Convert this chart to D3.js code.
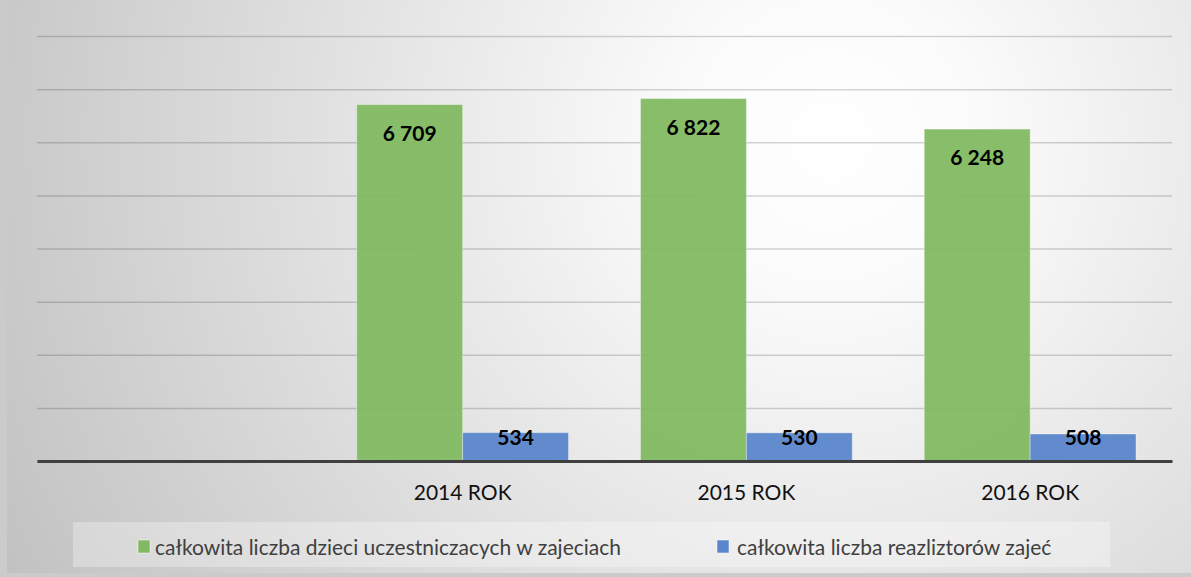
<!DOCTYPE html>
<html>
<head>
<meta charset="utf-8">
<script src="https://cdn.jsdelivr.net/npm/d3@7"></script>
<style>
  html, body { margin: 0; padding: 0; background: #cccccc; }
  svg { display: block; }
</style>
</head>
<body>
<svg id="chart" width="1191" height="577"></svg>
<script>
// ---- data ----
const categories = ["", "2014 ROK", "2015 ROK", "2016 ROK"];
const seriesNames = ["całkowita liczba dzieci uczestniczacych w zajeciach", "całkowita liczba reazliztorów zajeć"];
const childrenValues = [null, 6709, 6822, 6248];
const instructorValues = [null, 534, 530, 508];
const valueLabels = [["", "6 709", "6 822", "6 248"], ["", "534", "530", "508"]];
const yTicks = [0, 1000, 2000, 3000, 4000, 5000, 6000, 7000, 8000];
const colors = ["#82b962", "#5b86cb"];

const W = 1191, H = 577;
const margin = { left: 37, right: 19, top: 36, bottom: 116 };
const svg = d3.select("#chart");

// background
const defs = svg.append("defs");
const grad = defs.append("radialGradient").attr("id", "bg")
  .attr("gradientUnits", "userSpaceOnUse")
  .attr("cx", 830).attr("cy", 140).attr("r", 980);
grad.append("stop").attr("offset", 0).attr("stop-color", "#ffffff");
grad.append("stop").attr("offset", 0.15).attr("stop-color", "#fbfbfb");
grad.append("stop").attr("offset", 1).attr("stop-color", "#bebebe");

svg.append("rect").attr("width", W).attr("height", H).attr("fill", "#cbcbcb");
svg.append("rect").attr("x", 7).attr("y", 0).attr("width", W - 7).attr("height", 573).attr("fill", "url(#bg)");

const x0 = d3.scaleBand().domain(categories).range([margin.left, W - margin.right]).paddingInner(0).paddingOuter(0);
const x1 = d3.scaleBand().domain([0, 1]).range([0, x0.bandwidth()]).paddingInner(0).paddingOuter(0.34);
const y = d3.scaleLinear().domain([0, 8000]).range([H - margin.bottom, margin.top]);

// gridlines
const grid = svg.append("g")
  .attr("transform", `translate(${margin.left},0)`)
  .call(d3.axisLeft(y).tickValues(yTicks).tickSize(-(W - margin.left - margin.right)).tickFormat(""));
grid.select(".domain").remove();
grid.selectAll("line").attr("stroke", "rgba(0,0,0,0.17)").attr("stroke-width", 1.5);

// bars
const allSeries = [childrenValues, instructorValues];
allSeries.forEach((vals, si) => {
  const g = svg.append("g");
  const data = categories.map((c, i) => ({ c, v: vals[i], label: valueLabels[si][i] })).filter(d => d.v != null);
  g.selectAll("rect").data(data).join("rect")
    .attr("x", d => x0(d.c) + x1(si))
    .attr("y", d => y(d.v))
    .attr("width", x1.bandwidth())
    .attr("height", d => y(0) - y(d.v))
    .attr("fill", colors[si])
    .attr("fill-opacity", 0.95)
    .attr("stroke", "rgba(255,255,255,0.35)")
    .attr("stroke-width", 1);
  g.selectAll("text").data(data).join("text")
    .attr("x", d => x0(d.c) + x1(si) + x1.bandwidth() / 2)
    .attr("y", d => si === 0 ? y(d.v) + 36 : y(0) - 16)
    .attr("text-anchor", "middle")
    .attr("font-family", "Lato, 'Open Sans', sans-serif")
    .attr("font-weight", "bold")
    .attr("font-size", 21)
    .attr("fill", "#000")
    .text(d => d.label);
});

// baseline axis
const xAxis = svg.append("g")
  .attr("transform", `translate(0,${y(0)})`)
  .call(d3.axisBottom(x0).tickSize(0).tickPadding(24));
xAxis.select(".domain").attr("stroke", "#404040").attr("stroke-width", 3);
xAxis.selectAll("text")
  .attr("font-family", "Lato, 'Open Sans', sans-serif")
  .attr("font-size", 21)
  .attr("fill", "#111");

// legend
const legend = svg.append("g");
legend.append("rect").attr("x", 73).attr("y", 522).attr("width", 1037).attr("height", 45)
  .attr("fill", "rgba(255,255,255,0.3)");
const legendX = [138, 717];
const textX = [155, 737];
seriesNames.forEach((name, i) => {
  legend.append("rect").attr("x", legendX[i]).attr("y", 540).attr("width", 12).attr("height", 13)
    .attr("fill", colors[i]).attr("stroke", "rgba(255,255,255,0.5)");
  legend.append("text").attr("x", textX[i]).attr("y", 555)
    .attr("font-family", "Lato, 'Open Sans', sans-serif")
    .attr("font-size", 21)
    .attr("fill", "#404040")
    .text(name);
});
</script>
</body>
</html>
